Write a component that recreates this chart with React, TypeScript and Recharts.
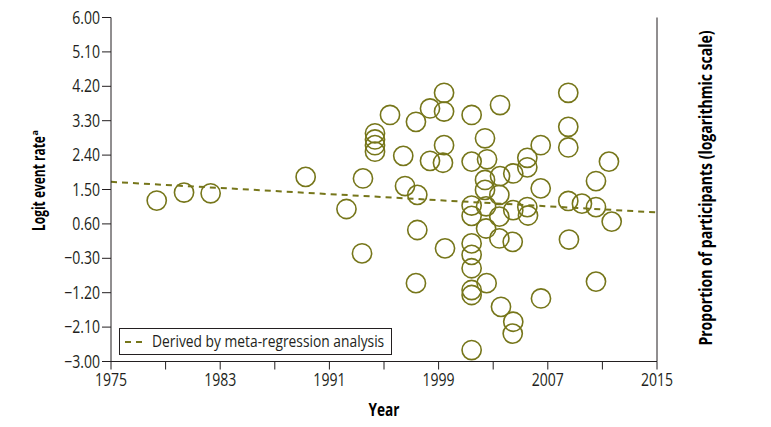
import { useLayoutEffect, useRef, useState } from "react";
import {
  ScatterChart,
  Scatter,
  XAxis,
  YAxis,
  ReferenceLine,
  Legend,
  Customized,
} from "recharts";

// study year and logit event rate
const studyYears = [
  1978.35, 1980.35, 1982.3, 1989.26, 1992.25, 1993.46, 1993.39, 1994.34, 1994.34, 1994.34,
  1994.34, 1995.44, 1996.41, 1996.54, 1997.34, 1997.44, 1997.44, 1997.34, 1998.37, 1998.37,
  1999.4, 1999.4, 1999.4, 1999.32, 1999.47, 2001.42, 2001.42, 2001.42, 2001.42, 2001.42,
  2001.42, 2001.42, 2001.42, 2001.42, 2001.42, 2002.4, 2002.55, 2002.4, 2002.4, 2002.48,
  2002.48, 2002.52, 2003.5, 2003.5, 2003.45, 2003.45, 2003.45, 2003.57, 2004.47, 2004.47,
  2004.43, 2004.47, 2004.43, 2005.5, 2005.5, 2005.5, 2005.55, 2006.48, 2006.48, 2006.5,
  2008.5, 2008.5, 2008.5, 2008.5, 2008.55, 2009.5, 2010.53, 2010.53, 2010.53, 2011.48,
  2011.68,
];
const logitRates = [
  1.21, 1.42, 1.4, 1.83, 0.99, 1.79, -0.17, 2.97, 2.81, 2.66,
  2.49, 3.45, 2.38, 1.59, 3.27, 1.36, 0.44, -0.95, 3.62, 2.25,
  4.03, 3.54, 2.66, 2.2, -0.04, 3.45, 2.23, 1.08, 0.81, 0.09,
  -0.21, -0.56, -1.13, -1.26, -2.7, 2.84, 2.29, 1.75, 1.49, 1.06,
  0.48, -0.95, 3.71, 1.85, 1.36, 0.79, 0.22, -1.57, 1.92, 0.96,
  0.13, -1.96, -2.27, 2.33, 2.08, 1.04, 0.82, 2.66, 1.53, -1.35,
  4.03, 3.14, 2.6, 1.2, 0.19, 1.13, 1.72, 1.04, -0.91, 2.23,
  0.66,
];

// meta-regression line end points
const regressionLine = [
  { x: 1975, y: 1.7 },
  { x: 2015, y: 0.9 },
];

const yearTicks = [1975, 1979, 1983, 1987, 1991, 1995, 1999, 2003, 2007, 2011, 2015];
const yearLabels = [1975, 1983, 1991, 1999, 2007, 2015];
const logitTicks = [-3, -2.1, -1.2, -0.3, 0.6, 1.5, 2.4, 3.3, 4.2, 5.1, 6];
const proportionTicks = [-3, -1.2, 0.6, 2.4, 4.2, 6];
const proportionLabels = ["9", "28", "61", "87", "96", "99"];

const OLIVE = "#76761a";
const INK = "#231f20";
const FONT = "'Open Sans', 'Noto Sans', sans-serif";
const SQUEEZE = 0.78; // fake a condensed face

const data = studyYears.map((year, i) => ({ year, logit: logitRates[i] }));

const Ring = (props: any) => {
  const { cx, cy } = props;
  if (cx == null || cy == null) return null;
  return <circle cx={cx} cy={cy} r={9.6} fill="none" stroke={OLIVE} strokeWidth={1.6} />;
};

const Narrow = ({ x, y, anchor, children, size = 18 }: any) => (
  <text
    transform={`translate(${x},${y}) scale(${SQUEEZE},1)`}
    textAnchor={anchor}
    fontSize={size}
    fill={INK}
    fontFamily={FONT}
  >
    {children}
  </text>
);

// text squeezed horizontally to a given width
const FitText = ({ x, y, rotate = 0, width, anchor = "start", size = 17, weight = "normal", fill = INK, children }: any) => {
  const ref = useRef<SVGTextElement>(null);
  const [sx, setSx] = useState(SQUEEZE);
  useLayoutEffect(() => {
    const w = ref.current ? ref.current.getComputedTextLength() : 0;
    if (w > 0) setSx(width / w);
  }, [width]);
  return (
    <text
      ref={ref}
      transform={`translate(${x},${y}) rotate(${rotate}) scale(${sx},1)`}
      textAnchor={anchor}
      fontSize={size}
      fontWeight={weight}
      fill={fill}
      fontFamily={FONT}
    >
      {children}
    </text>
  );
};

const LeftTick = (props: any) => {
  const { x, y, payload } = props;
  return (
    <Narrow x={x} y={y + 6} anchor="end">
      {payload.value.toFixed(2).replace("-", "\u2212")}
    </Narrow>
  );
};

const RightTick = (props: any) => {
  const { x, y, payload } = props;
  const idx = proportionTicks.indexOf(payload.value);
  return (
    <Narrow x={x + 18} y={y + 6} anchor="end">
      {proportionLabels[idx]}
    </Narrow>
  );
};

const BottomTick = (props: any) => {
  const { x, y, payload } = props;
  if (!yearLabels.includes(payload.value)) return null;
  return (
    <Narrow x={x} y={y + 13} anchor="middle">
      {payload.value}
    </Narrow>
  );
};

const LegendBox = () => (
  <div style={{ width: 271, height: 25, border: `1px solid ${INK}`, background: "#fff" }}>
    <svg width={271} height={25} style={{ display: "block" }}>
      <line x1={5} y1={13} x2={25} y2={13} stroke={OLIVE} strokeWidth={2} strokeDasharray="6 5" />
      <FitText x={32} y={18} width={232} size={16}>
        Derived by meta-regression analysis
      </FitText>
    </svg>
  </div>
);

const Titles = () => (
  <g>
    <FitText x={45} y={231} rotate={-90} width={95} weight="bold" fill="#000">
      Logit event rate
    </FitText>
    <text transform="translate(38,135.5) rotate(-90)" fontSize={9} fontWeight="bold" fontFamily={FONT}>
      a
    </text>
    <FitText x={712} y={188} rotate={-90} width={315} anchor="middle" weight="bold" fill="#000">
      Proportion of participants (logarithmic scale)
    </FitText>
    <FitText x={384} y={416} width={31} anchor="middle" weight="bold" fill="#000">
      Year
    </FitText>
  </g>
);

export default function App() {
  return (
    <div style={{ margin: -8, width: 771, height: 427, background: "#fff" }}>
      <ScatterChart
        width={771}
        height={427}
        margin={{ top: 17.5, right: 54, bottom: 35.5, left: 51 }}
      >
        <XAxis
          type="number"
          dataKey="year"
          domain={[1975, 2015]}
          ticks={yearTicks}
          height={30}
          tickSize={8}
          tickMargin={3}
          stroke={INK}
          tick={<BottomTick />}
          interval={0}
        />
        <YAxis
          yAxisId="left"
          type="number"
          dataKey="logit"
          domain={[-3, 6]}
          ticks={logitTicks}
          width={60}
          tickSize={9}
          tickMargin={2}
          stroke={INK}
          tick={<LeftTick />}
          interval={0}
        />
        <YAxis
          yAxisId="right"
          orientation="right"
          type="number"
          domain={[-3, 6]}
          ticks={proportionTicks}
          width={60}
          tickSize={9}
          stroke={INK}
          tick={<RightTick />}
          interval={0}
        />
        <ReferenceLine
          yAxisId="left"
          segment={regressionLine}
          stroke={OLIVE}
          strokeWidth={2}
          strokeDasharray="6 5"
          ifOverflow="extendDomain"
        />
        <Scatter
          yAxisId="left"
          data={data}
          shape={<Ring />}
          isAnimationActive={false}
        />
        <Legend
          content={<LegendBox />}
          layout="vertical"
          align="center"
          verticalAlign="middle"
          wrapperStyle={{ left: 119, top: 328, width: "auto" }}
        />
        <Customized component={<Titles />} />
      </ScatterChart>
    </div>
  );
}
